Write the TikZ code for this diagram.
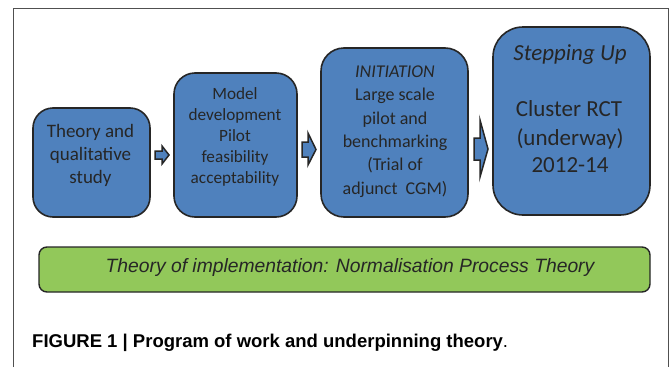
\documentclass[tikz,border=0pt]{standalone}
\usepackage{fontspec}
\setmainfont{Carlito}
\newfontfamily\arialf{Liberation Sans}
\definecolor{boxblue}{HTML}{4F81BD}
\definecolor{boxgreen}{HTML}{92C85A}
\definecolor{edgec}{HTML}{262626}
\definecolor{txtc}{HTML}{262626}
\definecolor{framec}{HTML}{505050}
\begin{document}
\begin{tikzpicture}[x=1pt,y=-1pt,
  bluebox/.style={draw=edgec,fill=boxblue,line width=1.6pt,inner sep=0pt},
  blockarrow/.style={draw=edgec,fill=boxblue,line width=1.5pt,line join=miter},
  ln/.style={anchor=base,inner sep=0pt,text=txtc}]
\useasboundingbox (0,0) rectangle (671,367);
\fill[white] (0,0) rectangle (671,367);
\draw[framec,line width=1pt] (13,367) -- (13,8) -- (668,8) -- (668,367);
% boxes
\node[bluebox,rounded corners=20pt,minimum width=117pt,minimum height=109pt] (b1) at (91.5,162.5) {};
\node[bluebox,rounded corners=21pt,minimum width=123pt,minimum height=144pt] (b2) at (235.5,145) {};
\node[bluebox,rounded corners=23pt,minimum width=147pt,minimum height=169pt] (b3) at (394.5,132.5) {};
\node[bluebox,rounded corners=30pt,minimum width=157pt,minimum height=188pt] (b4) at (571.5,121) {};
\node[draw=edgec,fill=boxgreen,line width=1.4pt,rounded corners=8pt,minimum width=611pt,minimum height=45pt,inner sep=0pt] (g) at (344.5,269.5) {};
% box 1 text
\begin{scope}[every node/.style={ln,font=\fontsize{19}{23}\selectfont}]
\node (t1a) at (90.5,137) {Theory and};
\node (t1b) at (90.5,160) {qualitative};
\node (t1c) at (90.5,183) {study};
\end{scope}
% box 2 text
\begin{scope}[every node/.style={ln,font=\fontsize{17.2}{21}\selectfont}]
\node (t2a) at (235,99.5) {Model};
\node (t2b) at (235,120.5) {development};
\node (t2c) at (235,141.5) {Pilot};
\node (t2d) at (235,162.5) {feasibility};
\node (t2e) at (235,183.5) {acceptability};
\end{scope}
% box 3 text
\begin{scope}[every node/.style={ln,font=\fontsize{18}{23}\selectfont}]
\node (t3a) at (395,77) {\itshape INITIATION};
\node (t3b) at (395,100.5) {Large scale};
\node (t3c) at (395,124) {pilot and};
\node (t3d) at (395,147.3) {benchmarking};
\node (t3e) at (395,170.7) {(Trial of};
\node (t3f) at (395,194) {adjunct\ \ CGM)};
\end{scope}
% box 4 text
\begin{scope}[every node/.style={ln,font=\fontsize{23}{28}\selectfont}]
\node (t4a) at (570,60) {\itshape Stepping Up};
\node (t4b) at (569,116.7) {Cluster RCT};
\node (t4c) at (570,145) {(underway)};
\node (t4d) at (570,172.7) {2012-14};
\end{scope}
% green text
\node[ln,font=\arialf\itshape\fontsize{19.3}{23}\selectfont] (gt) at (350,272) {Theory of implementation: Normalisation Process Theory};
% caption
\node[anchor=base west,inner sep=0pt,font=\arialf\fontsize{18.5}{22}\selectfont] (cap) at (32,347) {\bfseries FIGURE 1 | Program of work and underpinning theory\mdseries.};
% block arrows
\draw[blockarrow] (155,151) -- (162,151) -- (162,146) -- (169,155) -- (162,164) -- (162,159) -- (155,159) -- cycle;
\draw[blockarrow] (302,142) -- (308,142) -- (308,133) -- (316,149.5) -- (308,165) -- (308,157) -- (302,157) -- cycle;
\draw[blockarrow] (474,138) -- (480,138) -- (480,120) -- (488,149) -- (480,177) -- (480,160) -- (474,160) -- cycle;
\end{tikzpicture}
\end{document}
